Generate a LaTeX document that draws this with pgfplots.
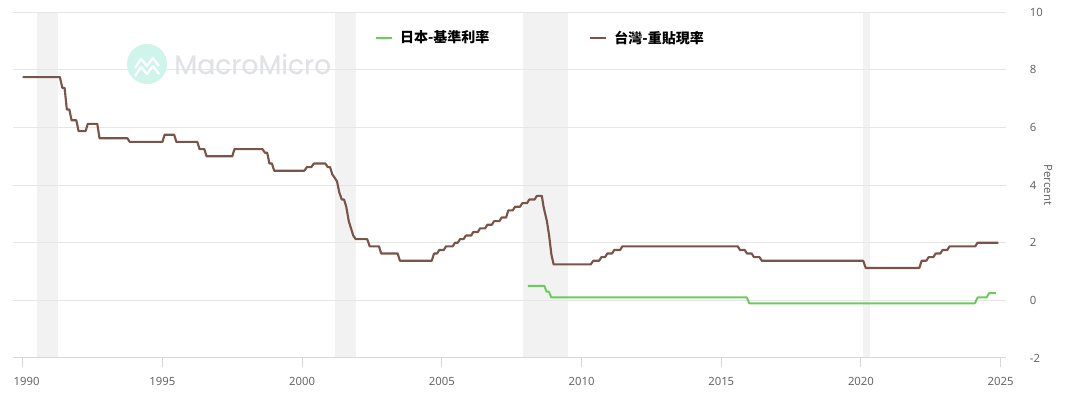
\documentclass[border=0pt]{standalone}
\usepackage{fontspec}
\setmainfont{Noto Sans}
\newfontfamily\cjk{Noto Sans CJK TC}
\newfontfamily\wm{Poppins}[FakeBold=0.6]
\usepackage{pgfplots}
\pgfplotsset{compat=1.18}
\definecolor{brownc}{HTML}{7A5448}
\definecolor{greenc}{HTML}{6ACD5B}
\definecolor{gridc}{HTML}{E6E6E6}
\definecolor{bandc}{HTML}{F2F2F2}
\definecolor{axisc}{HTML}{D8D8D8}
\definecolor{labc}{HTML}{666666}
\definecolor{mint}{HTML}{CFF4EA}
\definecolor{wmc}{HTML}{E0E2E6}
\begin{document}
\begin{tikzpicture}
\begin{scope}[x=0.75pt,y=0.75pt]
\fill[mint] (147,345) circle (20);
\draw[white,line width=1.6pt,line join=round] (135,333)--(141,342)--(147,335)--(153,343)--(159,335);
\draw[white,line width=1.6pt,line join=round] (135,341)--(141,350)--(147,343)--(153,351)--(159,343);
\node[anchor=west,inner sep=0pt,font=\wm\fontsize{20}{24}\selectfont,text=wmc] at (174,345) {MacroMicro};
\node[rotate=-90,inner sep=0pt,font=\fontsize{8.5}{10}\selectfont,text=labc] at (1048,224) {Percent};
\end{scope}
\begin{axis}[
 at={(9.975pt,38.25pt)}, anchor=south west,
 scale only axis, width=744.3pt, height=259.3pt,
 xmin=1989.664, xmax=2025.18, ymin=-2, ymax=10,
 set layers,
 axis x line*=bottom, axis y line*=right,
 x axis line style={draw=axisc, line width=0.75pt, -},
 y axis line style={draw=none},
 xtick={1990,1995,2000,2005,2010,2015,2020,2025},
 xticklabels={\hspace*{6pt}1990,1995,2000,2005,2010,2015,2020,2025},
 ytick={-2,0,2,4,6,8,10},
 yticklabels={-2,0,2,4,6,8,10},
 tick align=outside, major tick length=6.5pt,
 xtick style={draw=axisc, line width=0.75pt},
 ytick style={draw=none},
 ymajorgrids, grid style={draw=gridc, line width=0.75pt},
 ticklabel style={font=\fontsize{8.5}{10}\selectfont, text=labc},
 xticklabel style={anchor=north, inner sep=0pt, yshift=-7.75pt},
 yticklabel style={anchor=west, inner sep=0pt, xshift=11.5pt},
 legend style={at={(0.3645,0.9257)}, anchor=west, draw=none, fill=none,
   inner sep=0pt, outer sep=0pt, legend columns=2,
   font=\cjk\bfseries\fontsize{10.5}{12}\selectfont,
   nodes={inner sep=0pt},
   /tikz/every odd column/.append style={column sep=5.25pt},
   /tikz/every even column/.append style={column sep=75pt}},
 legend cell align=left,
 legend image code/.code={\draw[#1, line width=1.5pt] (0pt,0pt) -- (12pt,0pt);},
]
% recession bands
\addplot[fill=bandc, draw=none, on layer=axis background, forget plot] coordinates {(1990.5,-2) (1990.5,10) (1991.25,10) (1991.25,-2)};
\addplot[fill=bandc, draw=none, on layer=axis background, forget plot] coordinates {(2001.17,-2) (2001.17,10) (2001.92,10) (2001.92,-2)};
\addplot[fill=bandc, draw=none, on layer=axis background, forget plot] coordinates {(2007.92,-2) (2007.92,10) (2009.5,10) (2009.5,-2)};
\addplot[fill=bandc, draw=none, on layer=axis background, forget plot] coordinates {(2020.08,-2) (2020.08,10) (2020.33,10) (2020.33,-2)};
% Japan
\addplot[color=greenc, line width=1.5pt, line join=round] coordinates {
(2008.08,0.5) (2008.67,0.5) (2008.75,0.3) (2008.83,0.3) (2008.92,0.1)
(2015.92,0.1) (2016.0,-0.1) (2024.08,-0.1) (2024.17,0.1) (2024.5,0.1)
(2024.58,0.25) (2024.83,0.25)
};
\addlegendentry{日本-基準利率}
% Taiwan
\addplot[color=brownc, line width=1.6pt, line join=round] coordinates {
(1990.00,7.75) (1991.33,7.75) (1991.42,7.375) (1991.50,7.375) (1991.58,6.625)
(1991.67,6.625) (1991.75,6.25) (1991.92,6.25) (1992.00,5.875) (1992.25,5.875)
(1992.33,6.125) (1992.67,6.125) (1992.75,5.625) (1993.75,5.625) (1993.83,5.5)
(1995.00,5.5) (1995.08,5.75) (1995.42,5.75) (1995.50,5.5) (1996.25,5.5)
(1996.33,5.25) (1996.50,5.25) (1996.58,5.0) (1997.50,5.0) (1997.58,5.25)
(1998.58,5.25) (1998.67,5.125) (1998.75,5.125) (1998.83,4.75) (1998.92,4.75)
(1999.00,4.5) (2000.08,4.5) (2000.17,4.625) (2000.33,4.625) (2000.42,4.75)
(2000.83,4.75) (2000.92,4.625) (2001.00,4.625) (2001.08,4.375) (2001.17,4.25)
(2001.25,4.125) (2001.33,3.75) (2001.42,3.5) (2001.50,3.5) (2001.58,3.25)
(2001.67,2.75) (2001.75,2.5) (2001.83,2.25) (2001.92,2.125) (2002.33,2.125)
(2002.42,1.875) (2002.75,1.875) (2002.83,1.625) (2003.42,1.625) (2003.50,1.375)
(2004.64,1.375) (2004.72,1.625) (2004.83,1.625) (2004.91,1.75) (2005.07,1.75)
(2005.15,1.875) (2005.39,1.875) (2005.47,2.0) (2005.57,2.0) (2005.65,2.125)
(2005.78,2.125) (2005.86,2.25) (2006.05,2.25) (2006.13,2.375) (2006.29,2.375)
(2006.37,2.5) (2006.55,2.5) (2006.63,2.625) (2006.79,2.625) (2006.87,2.75)
(2007.06,2.75) (2007.14,2.875) (2007.30,2.875) (2007.38,3.125) (2007.54,3.125)
(2007.62,3.25) (2007.80,3.25) (2007.88,3.375) (2008.05,3.375) (2008.13,3.5)
(2008.32,3.5) (2008.40,3.625) (2008.58,3.625) (2008.64,3.25) (2008.70,3.0)
(2008.76,2.75) (2008.84,2.25) (2008.92,1.6) (2009.00,1.25) (2010.33,1.25)
(2010.42,1.375) (2010.63,1.375) (2010.71,1.5) (2010.84,1.5) (2010.92,1.625)
(2011.09,1.625) (2011.17,1.75) (2011.38,1.75) (2011.46,1.875) (2015.59,1.875)
(2015.67,1.75) (2015.84,1.75) (2015.92,1.625) (2016.09,1.625) (2016.17,1.5)
(2016.37,1.5) (2016.45,1.375) (2020.08,1.375) (2020.17,1.125) (2022.09,1.125)
(2022.17,1.375) (2022.34,1.375) (2022.42,1.5) (2022.59,1.5) (2022.67,1.625)
(2022.84,1.625) (2022.92,1.75) (2023.09,1.75) (2023.17,1.875) (2024.09,1.875)
(2024.17,2.0) (2024.92,2.0)
};
\addlegendentry{台灣-重貼現率}
\end{axis}
\path (0,0) rectangle (810pt,306.75pt);
\end{tikzpicture}
\end{document}
